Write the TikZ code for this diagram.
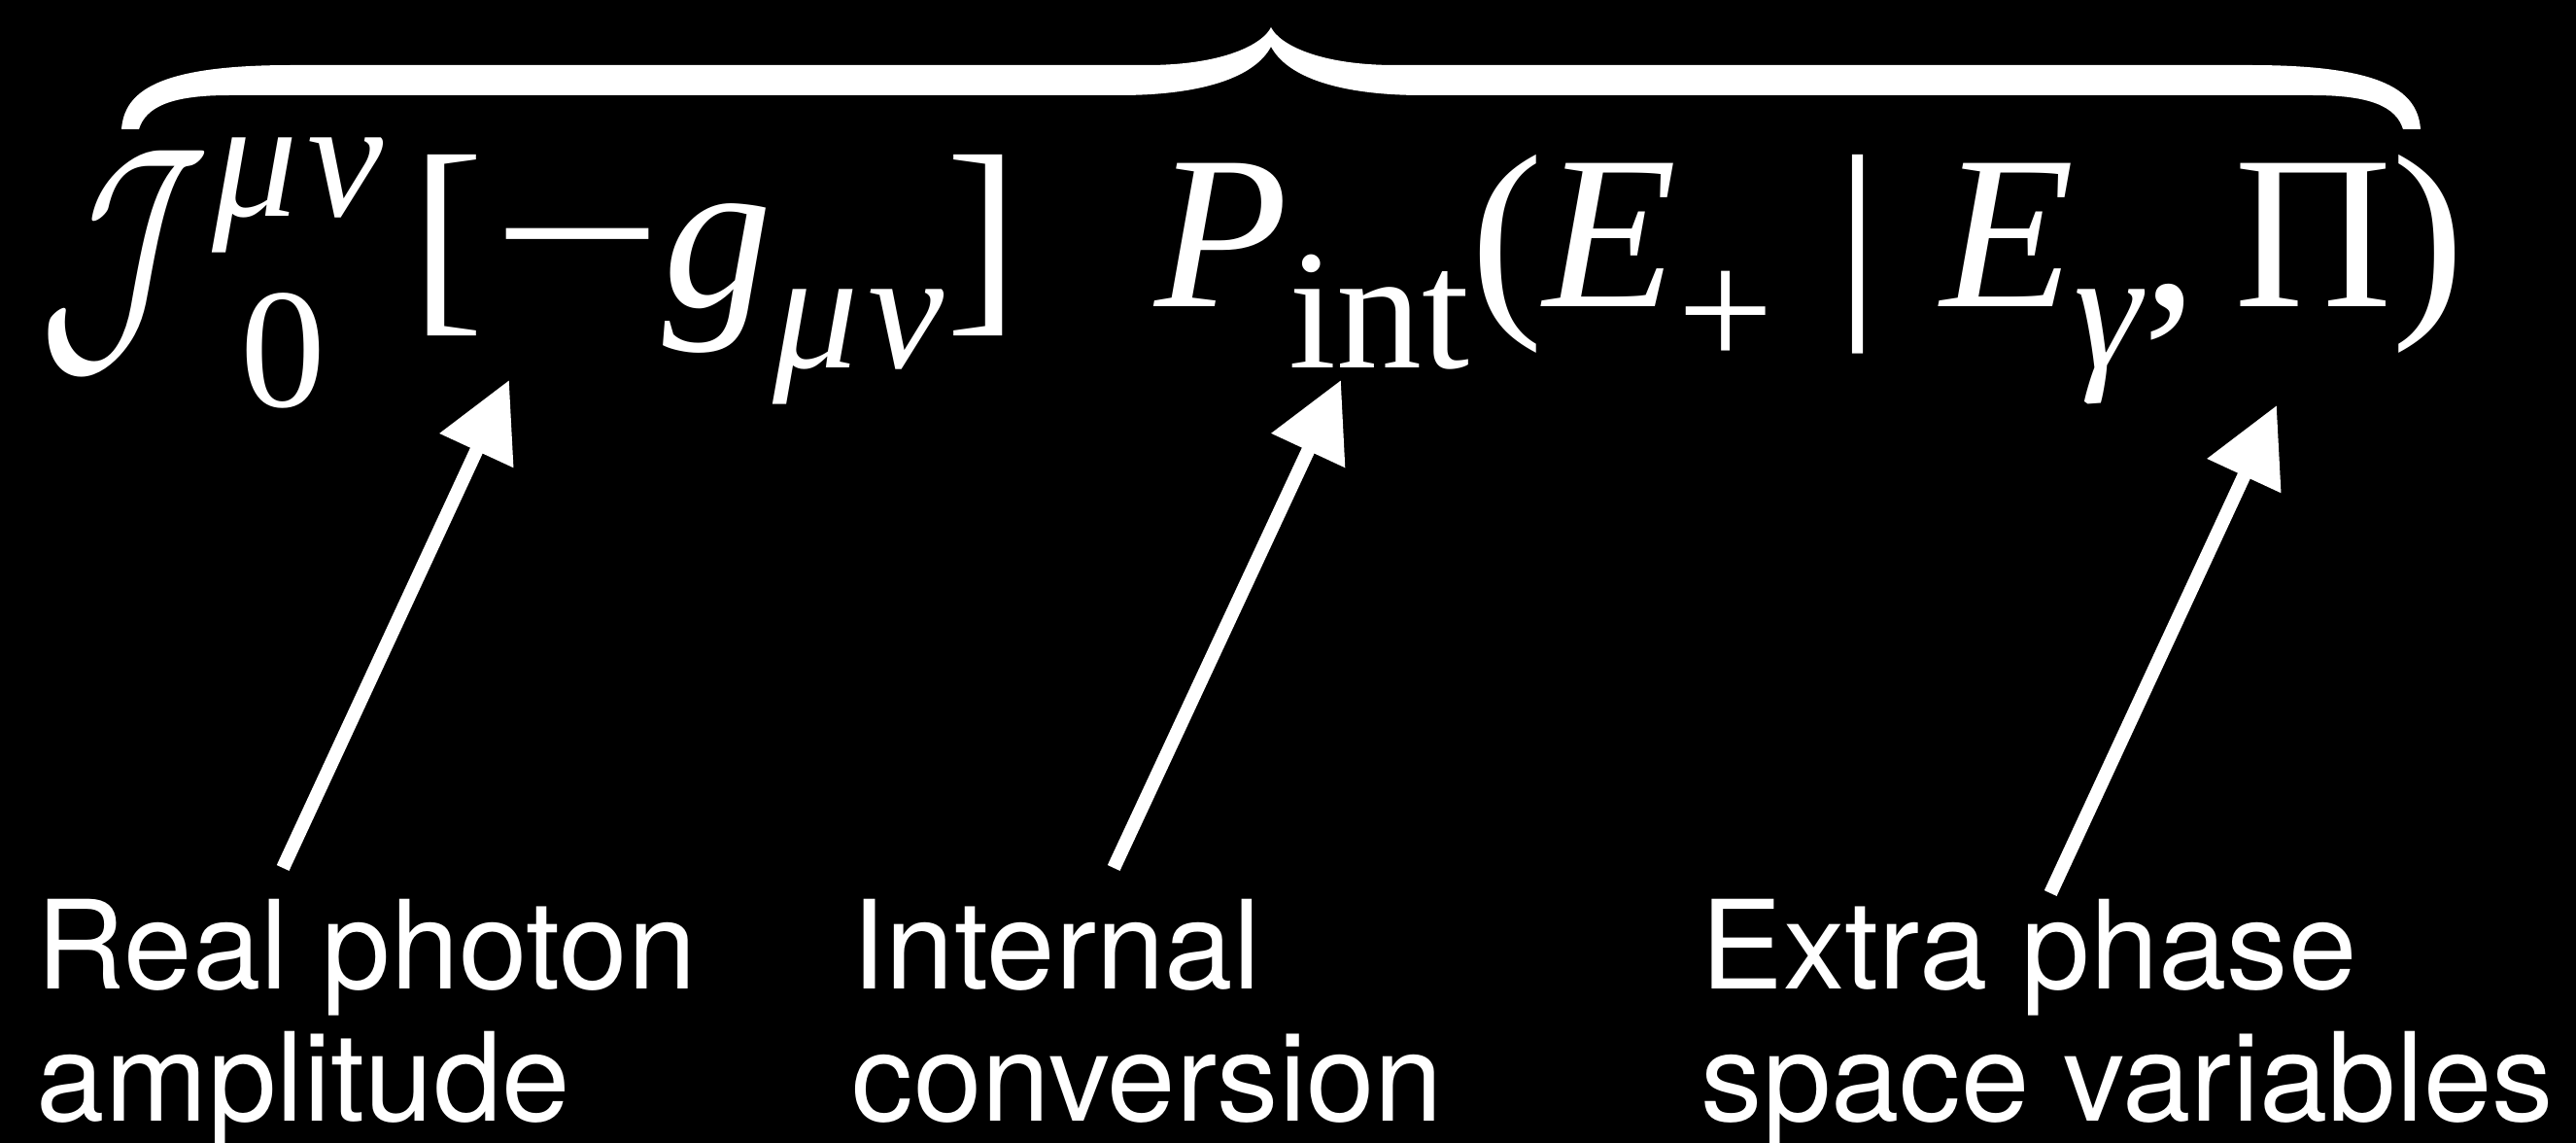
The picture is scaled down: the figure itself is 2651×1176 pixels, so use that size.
\RequirePackage{fix-cm}
\documentclass[tikz,border=0pt]{standalone}
\usepackage{graphicx}
\usepackage[no-math]{fontspec}
\setmainfont{Liberation Serif}[NFSSFamily=libser]
\setsansfont{TeX Gyre Heros}
\DeclareSymbolFont{letters}{TU}{libser}{m}{it}
\DeclareSymbolFont{operators}{TU}{libser}{m}{n}
\DeclareMathSizes{64}{64}{50}{40}
\newcommand\timesmath{%
  \Umathchardef\mu=0 \symletters "03BC
  \Umathchardef\nu=0 \symletters "03BD
  \Umathchardef\gamma=0 \symletters "03B3
  \Umathchardef\Pi=0 \symoperators "03A0
  \Umathchardef\mid=3 \symoperators `|
  \Umathcode`,=6 \symoperators `,
  \Umathcode`-=2 \symoperators "2212
  \Umathcode`+=2 \symoperators `+
  \Umathcode`0=0 \symoperators `0
  \Umathcode`(=4 \symoperators `(
  \Umathcode`)=5 \symoperators `)
  \Umathcode`[=4 \symoperators `[
  \Umathcode`]=5 \symoperators `]\relax}
\newcommand\mn{\mu\mkern1mu\nu}
\newcommand\longminus{\mathord{\kern2pt\scalebox{1.4}[1]{$-$}}}
% big script J with hand-placed indices
\newcommand\bigJ[2]{\mathord{\raisebox{-11pt}{\scalebox{0.9}[1.29]{$\mathcal{J}$}}%
  \kern1pt\rlap{\kern8pt\raisebox{-29.3pt}{$\scriptstyle #2$}}%
  \raisebox{26.2pt}{$\scriptstyle #1$}\kern8pt}}
\usetikzlibrary{arrows.meta}

\begin{document}
\begin{tikzpicture}[
  x=0.01cm, y=-0.01cm,
  pointer/.style={-{Triangle[length=8mm,width=8mm]},line width=1.4mm,white},
  caption/.style={anchor=north west,inner sep=0pt,align=left,text=white,
    font=\sffamily\fontsize{36}{38.7}\selectfont},
  formulastyle/.style={anchor=base west,inner sep=0pt,text=white,
    font=\fontsize{64}{70}\selectfont\timesmath}
]
  \path[use as bounding box,fill=black] (0,0) rectangle (2651,1176);

  % overbrace
  \fill[white] (125,133) .. controls (128,95) and (160,67) .. (300,67)
    -- (1180,67) .. controls (1260,67) and (1300,45) .. (1308,28)
    .. controls (1316,45) and (1356,67) .. (1436,67)
    -- (2316,67) .. controls (2456,67) and (2488,95) .. (2491,133)
    -- (2473,133) .. controls (2466,110) and (2440,98) .. (2380,98)
    -- (1464,98) .. controls (1380,98) and (1325,80) .. (1308,48)
    .. controls (1291,80) and (1236,98) .. (1152,98)
    -- (236,98) .. controls (176,98) and (150,110) .. (143,133) -- cycle;

  \node[formulastyle] (formula) at (40,315)
    {$\fontdimen16\textfont2=18pt \fontdimen17\textfont2=18pt
     \bigJ{\mn}{0}[\longminus g_{\mn}]\hspace{40pt}P_{\mathrm{int}}(E_+\mid E_\gamma,\Pi)$};

  \coordinate (tipA) at (524,391);
  \coordinate (tipB) at (1380,391);
  \coordinate (tipC) at (2343,417);

  \node[caption] (real) at (37,924) {Real photon\\amplitude};
  \node[caption] (internal) at (876,924) {Internal\\conversion};
  \node[caption] (extra) at (1750,924) {Extra phase\\space variables};

  \draw[pointer] ([xshift=2.54cm,yshift=0.31cm]real.north west) -- (tipA);
  \draw[pointer] ([xshift=2.70cm,yshift=0.31cm]internal.north west) -- (tipB);
  \draw[pointer] ([xshift=3.60cm,yshift=0.05cm]extra.north west) -- (tipC);
\end{tikzpicture}
\end{document}
